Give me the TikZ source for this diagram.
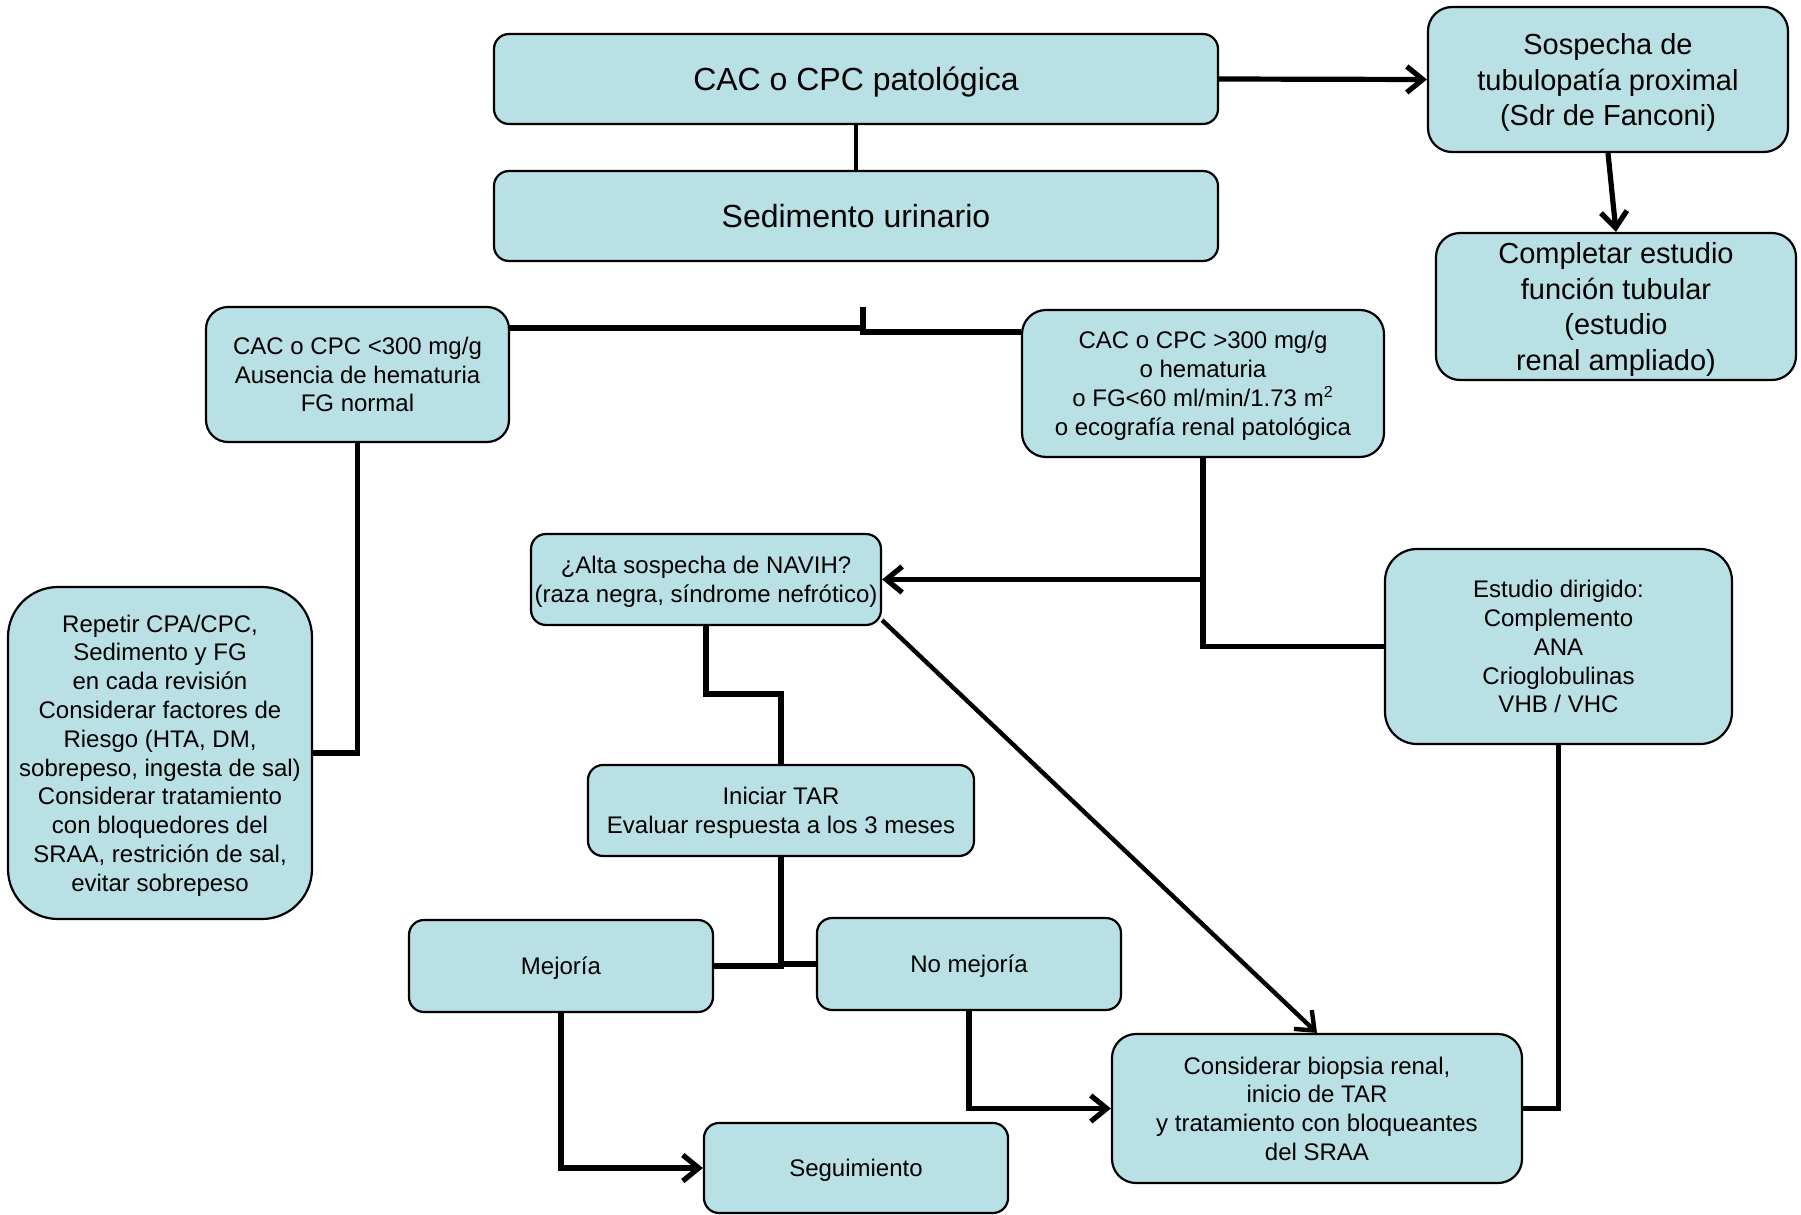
\documentclass[tikz,border=0pt]{standalone}
\usepackage{fontspec}
\setmainfont{Liberation Sans}
\usetikzlibrary{arrows.meta}
\definecolor{boxfill}{RGB}{185,224,228}
\tikzset{
    flowbox/.style={draw=black, line width=1.1pt, fill=boxfill, align=center, inner sep=1pt, text depth=0pt, font=\fontsize{12}{14.4}\selectfont},
    bigbox/.style={flowbox, font=\fontsize{16}{19.2}\selectfont},
    midbox/.style={flowbox, font=\fontsize{14.5}{17.8}\selectfont},
    flowline/.style={line width=2.6pt, draw=black},
    thinline/.style={line width=2.2pt, draw=black},
    flowarrow/.style={flowline, -{Straight Barb[length=8pt,width=13pt]}}
}

\begin{document}
\begin{tikzpicture}[x=0.5pt, y=-0.5pt]
    \useasboundingbox (0,0) rectangle (1801,1215);

    % Top row
    \node[bigbox, minimum width=362pt, minimum height=45pt, rounded corners=7.5pt] (cac) at (856,79) {CAC o CPC patológica};
    \node[bigbox, minimum width=362pt, minimum height=45pt, rounded corners=7.5pt] (sed) at (856,216) {Sedimento urinario};
    \node[midbox, minimum width=180pt, minimum height=72.5pt, rounded corners=12pt] (fanconi) at (1608,79.5) {Sospecha de\\tubulopatía proximal\\(Sdr de Fanconi)};
    \node[midbox, minimum width=180pt, minimum height=73.5pt, rounded corners=12pt] (tubular) at (1616,306.5) {Completar estudio\\función tubular\\(estudio\\renal ampliado)};

    % Second level
    \node[flowbox, minimum width=151.5pt, minimum height=67.5pt, rounded corners=11pt] (low) at (357.5,374.5) {CAC o CPC <300 mg/g\\Ausencia de hematuria\\FG normal};
    \node[flowbox, minimum width=181pt, minimum height=73.5pt, rounded corners=12pt] (high) at (1203,383.5) {CAC o CPC >300 mg/g\\o hematuria\\o FG<60 ml/min/1.73 m\textsuperscript{2}\\o ecografía renal patológica};

    % Middle
    \node[flowbox, minimum width=175pt, minimum height=45.5pt, rounded corners=7.5pt] (navih) at (706,579.5) {¿Alta sospecha de NAVIH?\\(raza negra, síndrome nefrótico)};
    \node[flowbox, minimum width=173.5pt, minimum height=97.5pt, rounded corners=16pt] (dirigido) at (1558.5,646.5) {Estudio dirigido:\\Complemento\\ANA\\Crioglobulinas\\VHB / VHC};
    \node[flowbox, minimum width=152pt, minimum height=166pt, rounded corners=25pt] (repetir) at (160,753) {Repetir CPA/CPC,\\Sedimento y FG\\en cada revisión\\Considerar factores de\\Riesgo (HTA, DM,\\sobrepeso, ingesta de sal)\\Considerar tratamiento\\con bloquedores del\\SRAA, restrición de sal,\\evitar sobrepeso};
    \node[flowbox, minimum width=193pt, minimum height=45.5pt, rounded corners=7.5pt] (tar) at (781,810.5) {Iniciar TAR\\Evaluar respuesta a los 3 meses};

    % Bottom
    \node[flowbox, minimum width=152pt, minimum height=46pt, rounded corners=7.5pt] (mejoria) at (561,966) {Mejoría};
    \node[flowbox, minimum width=152pt, minimum height=46pt, rounded corners=7.5pt] (nomejoria) at (969,964) {No mejoría};
    \node[flowbox, minimum width=152pt, minimum height=45pt, rounded corners=7.5pt] (seguim) at (856,1168) {Seguimiento};
    \node[flowbox, minimum width=205pt, minimum height=74.5pt, rounded corners=12pt] (biopsia) at (1317,1108.5) {Considerar biopsia renal,\\inicio de TAR\\y tratamiento con bloqueantes\\del SRAA};

    % Split under the sediment
    \coordinate (splitTop) at (863,307);
    \coordinate (splitL) at (863,328);
    \coordinate (splitR) at (863,332);
    \coordinate (navihStep) at (706,694);

    % Connectors
    \draw[thinline] (cac.south) -- (sed.north);
    \draw[flowarrow] (cac.east) -- (fanconi.west);
    \draw[flowarrow] (fanconi.south) -- (tubular.north);
    \draw[flowline] (splitL) -- (splitL -| low.east);
    \draw[flowline] (splitTop) -- (splitR) -- (splitR -| high.west);
    \draw[flowline] (low.south) |- (repetir.east);
    \draw[flowline] (high.south) |- (dirigido.west);
    \draw[flowarrow] (high.south |- navih.east) -- (navih.east);
    \draw[flowline] (navih.south) -- (navihStep) -| (tar.north);
    \draw[thinline, -{Straight Barb[length=8pt,width=13pt]}] (navih.-13) -- (biopsia.north);
    \draw[flowline] (mejoria.east) -| (tar.south);
    \draw[flowline] (tar.south |- nomejoria.west) -- (nomejoria.west);
    \draw[flowarrow] (mejoria.south) |- (seguim.west);
    \draw[flowarrow] (nomejoria.south) |- (biopsia.west);
    \draw[flowline] (dirigido.south) |- (biopsia.east);
\end{tikzpicture}
\end{document}
